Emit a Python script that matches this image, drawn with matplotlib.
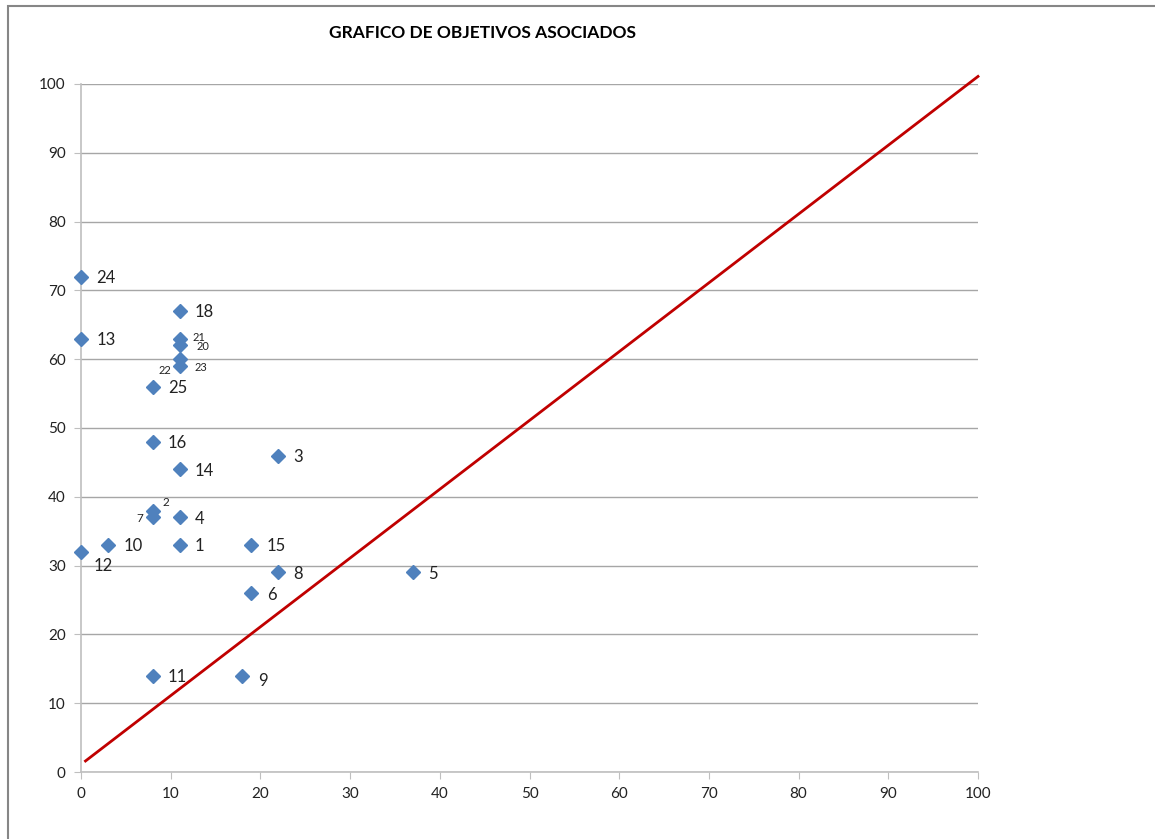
import matplotlib.pyplot as plt
from matplotlib.patches import Rectangle

# data
labels = ['1', '2', '3', '4', '5', '6', '7', '8', '9', '10', '11', '12', '13',
          '14', '15', '16', '18', '20', '21', '22', '23', '24', '25']
x_vals = [11, 8, 22, 11, 37, 19, 8, 22, 18, 3, 8, 0, 0,
          11, 19, 8, 11, 11, 11, 11, 11, 0, 8]
y_vals = [33, 38, 46, 37, 29, 26, 37, 29, 14, 33, 14, 32, 63,
          44, 33, 48, 67, 62, 63, 60, 59, 72, 56]

line_x = [0.5, 100]
line_y = [1.6, 101.1]

title = 'GRAFICO DE OBJETIVOS ASOCIADOS'

# label placement (offset points, alignment, font size) for the labels that were moved
default_lab = (11, -1, 'left', 12)
special_lab = {
    '12': (9, -10, 'left', 12),
    '9': (11, -4, 'left', 12),
    '7': (-7, -1, 'right', 8.5),
    '2': (7, 6, 'left', 8.5),
    '21': (9, 1, 'left', 8),
    '20': (12, -1, 'left', 8),
    '22': (-6, -8, 'right', 8),
    '23': (11, -1, 'left', 8),
}

plt.rcParams['font.family'] = ['Lato', 'DejaVu Sans']

fig = plt.figure(figsize=(11.55, 8.39), dpi=100)
ax = fig.add_axes([81 / 1155, 1 - 772 / 839, (978 - 81) / 1155, (772 - 84) / 839])

ax.plot(line_x, line_y, color='#C00000', lw=2, zorder=2, clip_on=False)
ax.plot(x_vals, y_vals, linestyle='none', marker='D', markersize=7,
        color='#4F81BD', zorder=3, clip_on=False)

for lab, xv, yv in zip(labels, x_vals, y_vals):
    dx, dy, ha, fs = special_lab.get(lab, default_lab)
    ax.annotate(lab, (xv, yv), xytext=(dx, dy), textcoords='offset points',
                ha=ha, va='center', fontsize=fs, color='#222222')

ax.set_xlim(0, 100)
ax.set_ylim(0, 100)
ax.set_xticks(range(0, 101, 10))
ax.set_yticks(range(0, 101, 10))
ax.grid(axis='y', color='#A6A6A6', lw=1)
ax.set_axisbelow(True)
for s in ['top', 'right']:
    ax.spines[s].set_visible(False)
for s in ['left', 'bottom']:
    ax.spines[s].set_color('#BFBFBF')
    ax.spines[s].set_linewidth(1.2)
ax.tick_params(length=5, color='#BFBFBF', labelsize=11, labelcolor='#222222', pad=6)

fig.text(483 / 1155, 1 - 33 / 839, title, ha='center', va='center',
         fontsize=12.5, fontweight='bold')

# chart frame
fig.patches.append(Rectangle((8 / 1155, -0.1), 1.2, 1.1 - 6 / 839, transform=fig.transFigure,
                             fill=False, edgecolor='#868686', lw=1.5))

fig.savefig('out.png', dpi=100)
